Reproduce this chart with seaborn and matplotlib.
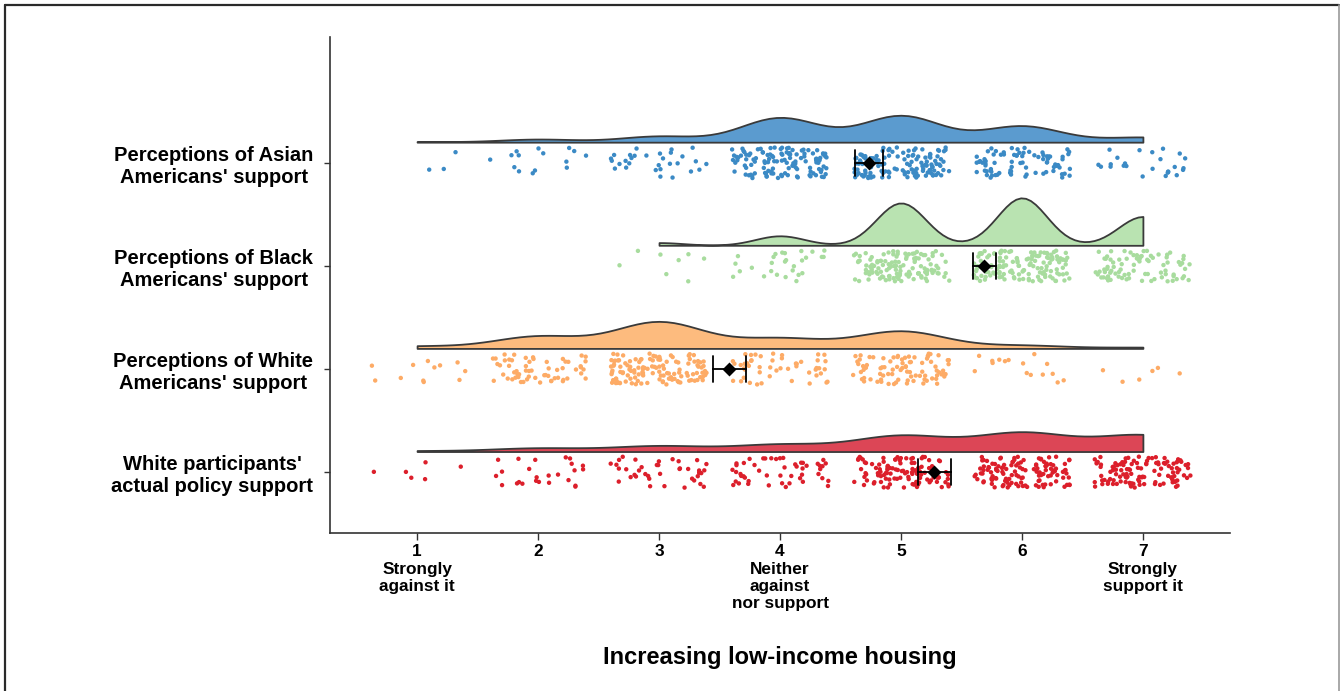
import numpy as np
import pandas as pd
import matplotlib
matplotlib.use("Agg")
import matplotlib.pyplot as plt
from matplotlib.lines import Line2D
import seaborn as sns

# ---- data: number of responses at each scale point (1-7) per rating group ----
groups = [
    "Perceptions of Asian\nAmericans' support",
    "Perceptions of Black\nAmericans' support",
    "Perceptions of White\nAmericans' support",
    "White participants'\nactual policy support",
]
levels = [1, 2, 3, 4, 5, 6, 7]
asian_counts = [3, 15, 30, 120, 130, 80, 25]
black_counts = [0, 0, 8, 28, 125, 140, 85]
white_counts = [12, 60, 130, 50, 85, 16, 6]
actual_counts = [6, 25, 40, 50, 110, 130, 115]
level_labels = [
    "1\nStrongly\nagainst it", "2", "3",
    "4\nNeither\nagainst\nnor support", "5", "6",
    "7\nStrongly\nsupport it",
]
x_title = "Increasing low-income housing"

point_colors = ["#3b8ac5", "#a8dc9e", "#fdab66", "#dc1f2b"]
fill_colors = ["#5b9bcf", "#b9e3b1", "#fdbb7e", "#dc4656"]

# ---- long-format table ----
rows = []
for gi, counts in enumerate([asian_counts, black_counts, white_counts, actual_counts]):
    for lvl, c in zip(levels, counts):
        rows += [(groups[gi], gi, lvl)] * c
df = pd.DataFrame(rows, columns=["group", "pos", "response"])

# half-violins: baseline 0.2 above each row of points, peak height = cloud_w
cloud_w = 0.46
df["vpos"] = df["pos"] - 0.2 - cloud_w / 2

# display jitter for the raw responses
rng = np.random.default_rng(7)
df["xj"] = df["response"] + rng.uniform(-0.4, 0.4, len(df))
df["yj"] = df["pos"] + rng.uniform(-0.15, 0.15, len(df))


def nrd0(kde):
    """Silverman's rule-of-thumb bandwidth expressed as a gaussian_kde factor."""
    x = np.asarray(kde.dataset).ravel()
    sd = x.std(ddof=1)
    q75, q25 = np.percentile(x, [75, 25])
    h = 0.9 * min(sd, (q75 - q25) / 1.34) * len(x) ** -0.2
    return h / sd


sns.set_theme(style="ticks")
plt.rcParams["font.family"] = ["Liberation Sans", "DejaVu Sans"]
plt.rcParams["font.weight"] = "bold"

fig = plt.figure(figsize=(13.4, 6.91), dpi=100)
ax = fig.add_axes([330 / 1340, 1 - 533 / 691, 900 / 1340, 496 / 691])

# density clouds
sns.violinplot(
    data=df, x="response", y="vpos", orient="h", native_scale=True,
    split=True, inner=None, cut=0, density_norm="area", width=cloud_w,
    bw_method=nrd0, color=fill_colors[0], linewidth=1.3, linecolor="#3a3a3a",
    saturation=1, ax=ax,
)
for coll, fc in zip(ax.collections, fill_colors):
    coll.set_facecolor(fc)

# raw responses (rain)
sns.scatterplot(
    data=df, x="xj", y="yj", hue="group", palette=point_colors,
    s=10, linewidth=0, legend=False, ax=ax, zorder=3,
)

# means with 95% confidence intervals
sns.pointplot(
    data=df, x="response", y="pos", orient="h", native_scale=True,
    errorbar=("se", 1.96), color="black", marker="D", markersize=5,
    linestyle="none", capsize=0.25, err_kws={"linewidth": 1.3}, ax=ax,
)
for art in ax.lines:
    art.set_zorder(5)
for coll in ax.collections[len(fill_colors) + 1:]:
    coll.set_zorder(6)

ax.set_xlim(0.28, 7.72)
ax.set_ylim(3.59, -1.22)
ax.set_xticks(levels, level_labels)
ax.set_yticks(range(len(groups)), groups)
ax.set_xlabel(x_title, fontsize=17, fontweight="bold", color="black")
ax.set_ylabel("")
ax.xaxis.set_label_coords(0.5, -0.228)
ax.xaxis.label.set_va("top")

ax.tick_params(axis="x", length=5, width=1, color="#333333", pad=3,
               labelsize=12.4, labelcolor="black")
ax.tick_params(axis="y", length=4, width=1, color="#333333", pad=8,
               labelsize=14.5, labelcolor="black")
for lbl in ax.get_xticklabels():
    lbl.set_fontweight("bold")
    lbl.set_linespacing(1.2)
for lbl in ax.get_yticklabels():
    lbl.set_fontweight("bold")
    lbl.set_multialignment("center")
    lbl.set_linespacing(1.2)

sns.despine(ax=ax)
for side in ("left", "bottom"):
    ax.spines[side].set_color("#333333")
    ax.spines[side].set_linewidth(1.2)

# panel frame around the figure
fig.add_artist(Line2D([5 / 1340, 1339 / 1340], [1 - 5 / 691] * 2,
                      transform=fig.transFigure, color="#2a2a2a", lw=1.6))
fig.add_artist(Line2D([5 / 1340] * 2, [0, 1 - 5 / 691],
                      transform=fig.transFigure, color="#2a2a2a", lw=1.6))
fig.add_artist(Line2D([1339 / 1340] * 2, [0, 1 - 5 / 691],
                      transform=fig.transFigure, color="#9a9a9a", lw=1.2))

fig.savefig("out.png", dpi=100)
